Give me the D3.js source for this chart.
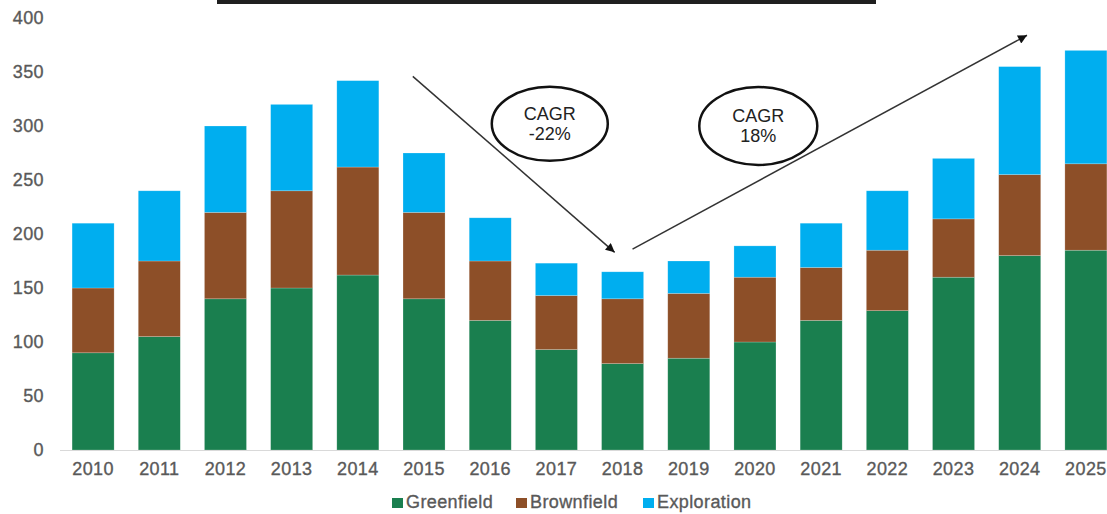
<!DOCTYPE html>
<html lang="en"><head>
<meta charset="utf-8">
<title>Capex by type</title>
<script src="https://cdn.jsdelivr.net/npm/d3@7/dist/d3.min.js"></script>
<style>
  body { margin: 0; background: #fff; }
  text { font-family: "Liberation Sans", Arial, sans-serif; }
  .lab { fill: #595959; stroke: #595959; stroke-width: 0.35px; font-size: 18px; letter-spacing: 0.4px; }
</style>
</head>
<body>
<script type="text/javascript">

var width = 1107;
var height = 514;

// data
var years = ["2010","2011","2012","2013","2014","2015","2016","2017","2018","2019","2020","2021","2022","2023","2024","2025"];
var greenfield  = [90, 105, 140, 150, 162, 140, 120, 93, 80, 85, 100, 120, 129, 160, 180, 185];
var brownfield  = [60,  70,  80,  90, 100,  80,  55, 50, 60, 60,  60,  49,  56,  54,  75,  80];
var exploration = [60,  65,  80,  80,  80,  55,  40, 30, 25, 30,  29,  41,  55,  56, 100, 105];
var seriesNames = ["Greenfield", "Brownfield", "Exploration"];
var colors = ["#1a7f4f", "#8d4f28", "#00aeef"];
var yTicks = [0, 50, 100, 150, 200, 250, 300, 350, 400];

// CAGR notes: position given as bar index (fractional) and value
var cagrNotes = [
  {label: ["CAGR", "-22%"], at: 6.90, value: 302, rx: 58, ry: 37},
  {label: ["CAGR", "18%"],  at: 10.05, value: 300, rx: 59, ry: 39}
];
var arrows = [
  {from: [4.83, 346], to: [7.88, 183]},
  {from: [8.15, 186], to: [14.11, 384]}
];

var table = years.map(function(y, i) {
  return {year: y, Greenfield: greenfield[i], Brownfield: brownfield[i], Exploration: exploration[i]};
});

var svg = d3.select("body").append("svg")
    .attr("width", width)
    .attr("height", height);

var x = d3.scaleBand()
    .domain(years)
    .range([60, 1119])
    .paddingInner(0.365)
    .paddingOuter(0.1825);

var y = d3.scaleLinear()
    .domain([0, 400])
    .range([450, 18]);

// fractional bar index -> pixel x (bar centres)
function xAt(f) {
  return x(years[0]) + x.bandwidth() / 2 + f * x.step();
}

// thick rule at the top (cut-off title underline)
svg.append("line")
    .attr("x1", 217).attr("x2", 876)
    .attr("y1", 2).attr("y2", 2)
    .attr("stroke", "#1f1f1f")
    .attr("stroke-width", 4);

var stack = d3.stack().keys(seriesNames)(table);

svg.append("g").selectAll("g")
    .data(stack)
    .enter()
    .append("g")
    .attr("fill", function(d, i) { return colors[i]; })
    .selectAll("rect")
    .data(function(d) { return d; })
    .enter()
    .append("rect")
    .attr("x", function(d) { return x(d.data.year); })
    .attr("y", function(d) { return y(d[1]); })
    .attr("width", x.bandwidth())
    .attr("height", function(d) { return y(d[0]) - y(d[1]); })
    .attr("stroke", "#ffffff")
    .attr("stroke-opacity", 0.35)
    .attr("stroke-width", 0.6);

// x axis
var xAxis = svg.append("g")
    .attr("transform", "translate(0,450)")
    .call(d3.axisBottom(x).tickSize(0).tickPadding(12));
xAxis.attr("font-size", null).attr("font-family", null);
xAxis.select(".domain").attr("stroke", "#d9d9d9").attr("stroke-width", 1.2)
    .attr("d", "M60,0.5H1107");
xAxis.selectAll("text").attr("class", "lab").attr("fill", null);

// y axis
var yAxis = svg.append("g")
    .attr("transform", "translate(44,0)")
    .call(d3.axisLeft(y).tickValues(yTicks).tickSize(0).tickPadding(0));
yAxis.attr("font-size", null).attr("font-family", null);
yAxis.select(".domain").remove();
yAxis.selectAll("text").attr("class", "lab").attr("fill", null);

// arrows
svg.append("defs").append("marker")
    .attr("id", "head")
    .attr("viewBox", "0 0 10 10")
    .attr("refX", 10).attr("refY", 5)
    .attr("markerWidth", 11).attr("markerHeight", 9)
    .attr("markerUnits", "userSpaceOnUse")
    .attr("orient", "auto")
    .append("path")
    .attr("d", "M0,0L10,5L0,10z")
    .attr("fill", "#111");

svg.selectAll(".arrow")
    .data(arrows)
    .enter()
    .append("line")
    .attr("class", "arrow")
    .attr("x1", function(d) { return xAt(d.from[0]); })
    .attr("y1", function(d) { return y(d.from[1]); })
    .attr("x2", function(d) { return xAt(d.to[0]); })
    .attr("y2", function(d) { return y(d.to[1]); })
    .attr("stroke", "#333")
    .attr("stroke-width", 1.5)
    .attr("marker-end", "url(#head)");

// CAGR bubbles
var notes = svg.selectAll(".note")
    .data(cagrNotes)
    .enter()
    .append("g")
    .attr("class", "note")
    .attr("transform", function(d) { return "translate(" + xAt(d.at) + "," + y(d.value) + ")"; });

notes.append("ellipse")
    .attr("rx", function(d) { return d.rx; })
    .attr("ry", function(d) { return d.ry; })
    .attr("fill", "#fff")
    .attr("stroke", "#111")
    .attr("stroke-width", 2.5);

notes.append("text")
    .attr("text-anchor", "middle")
    .attr("fill", "#222")
    .style("font-size", "18px")
    .selectAll("tspan")
    .data(function(d) { return d.label; })
    .enter()
    .append("tspan")
    .attr("x", 0)
    .attr("y", function(d, i) { return -4 + i * 20; })
    .text(function(d) { return d; });

// legend
var legendX = [392, 516, 643];
var legend = svg.append("g").selectAll("g")
    .data(seriesNames)
    .enter()
    .append("g")
    .attr("transform", function(d, i) { return "translate(" + legendX[i] + ",498)"; });

legend.append("rect")
    .attr("width", 11).attr("height", 10)
    .attr("fill", function(d, i) { return colors[i]; });

legend.append("text")
    .attr("class", "lab")
    .attr("x", 14)
    .attr("y", 10)
    .text(function(d) { return d; });

</script>
</body></html>
